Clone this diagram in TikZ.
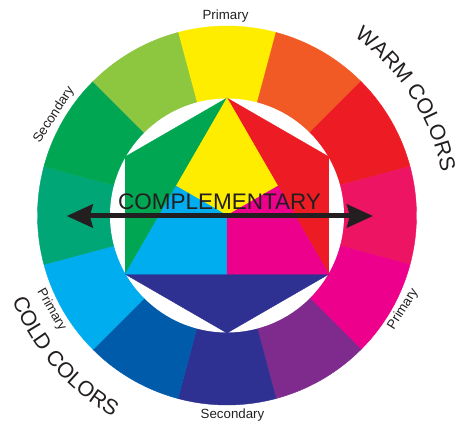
\documentclass[tikz,border=0pt]{standalone}
\usepackage{fontspec}
\setmainfont{Liberation Sans}
\usetikzlibrary{arrows.meta,decorations.text,calc}

% wheel colours
\definecolor{wYellow}{HTML}{FFED00}
\definecolor{wOrange}{HTML}{F15A24}
\definecolor{wRed}{HTML}{ED1C24}
\definecolor{wCrimson}{HTML}{ED1464}
\definecolor{wMagenta}{HTML}{EC008C}
\definecolor{wPurple}{HTML}{7F2B8E}
\definecolor{wIndigo}{HTML}{2E3192}
\definecolor{wBlue}{HTML}{005BAA}
\definecolor{wCyan}{HTML}{00AEEF}
\definecolor{wTeal}{HTML}{00A676}
\definecolor{wGreen}{HTML}{00A651}
\definecolor{wLime}{HTML}{8DC63F}
\definecolor{ink}{HTML}{231F20}

\newcommand{\lblsmall}{\fontsize{13.3}{16}\selectfont}
\newcommand{\lblbig}{\fontsize{21.5}{26}\selectfont}
\newcommand{\lblmid}{\fontsize{22.5}{27}\selectfont}

\tikzset{
  piece/.style={fill=#1, draw=#1, line width=0.4pt, line join=round},
  lbl/.style={text=ink, font=\lblsmall, inner sep=0pt},
  arrowline/.style={draw=ink, line width=5pt,
    {Stealth[length=26pt,width=23pt,inset=3pt]}-{Stealth[length=26pt,width=23pt,inset=3pt]}},
}

\begin{document}
\begin{tikzpicture}[x=1pt,y=1pt]
\useasboundingbox (0,-427) rectangle (459,0);

\begin{scope}[shift={(227,-215.5)}]
  % outer ring of twelve hues
  \foreach \a/\c in {90/wYellow,60/wOrange,30/wRed,0/wCrimson,-30/wMagenta,-60/wPurple,
                     -90/wIndigo,-120/wBlue,-150/wCyan,180/wTeal,150/wGreen,120/wLime}
    \path[piece=\c] (0,0) -- (\a-15:189.5) arc[start angle=\a-15,end angle=\a+15,radius=189.5] -- cycle;
  \fill[white] (0,0) circle[radius=117];

  % hexagon and central triangle
  \coordinate (O) at (0,0);
  \foreach \i/\ang in {1/90,2/30,3/-30,4/-90,5/-150,6/150}
    \coordinate (H\i) at (\ang:117.5);
  \coordinate (ML) at ($(H1)!0.5!(H5)$);
  \coordinate (MR) at ($(H1)!0.5!(H3)$);
  \coordinate (MB) at ($(H3)!0.5!(H5)$);

  \path[piece=wGreen]  (H1) -- (H6) -- (H5) -- cycle;
  \path[piece=wRed]    (H1) -- (H2) -- (H3) -- cycle;
  \path[piece=wIndigo] (H3) -- (H4) -- (H5) -- cycle;
  \path[piece=wYellow]  (H1) -- (MR) -- (O) -- (ML) -- cycle;
  \path[piece=wCyan]    (H5) -- (ML) -- (O) -- (MB) -- cycle;
  \path[piece=wMagenta] (H3) -- (MB) -- (O) -- (MR) -- cycle;

  % curved group titles
  \path[decorate, decoration={text along path, text align=center,
        text={|\lblbig\color{ink}|WARM COLORS}}]
    (63:219) arc[start angle=63, end angle=3, radius=219];
  \path[decorate, decoration={text along path, text align=center,
        text={|\lblbig\color{ink}|COLD COLORS}}]
    (191:231) arc[start angle=191, end angle=251, radius=231];
\end{scope}

% complementary arrow
\node[anchor=base, text=ink, font=\lblmid, inner sep=0pt] (comp) at (219.5,-209.3) {COMPLEMENTARY};
\coordinate (AL) at (66.7,-216);
\coordinate (AR) at (373,-216);
\draw[arrowline] (AL) -- (AR);

% ring labels
\node[lbl, anchor=base] (ptop) at (225.5,-20) {Primary};
\node[lbl, anchor=base] (sbot) at (232.5,-419) {Secondary};
\node[lbl, rotate=57] (stl) at (54,-115) {Secondary};
\node[lbl, rotate=-60] (pbl) at (51.5,-310) {Primary};
\node[lbl, rotate=58] (pbr) at (403,-309) {Primary};
\end{tikzpicture}
\end{document}
